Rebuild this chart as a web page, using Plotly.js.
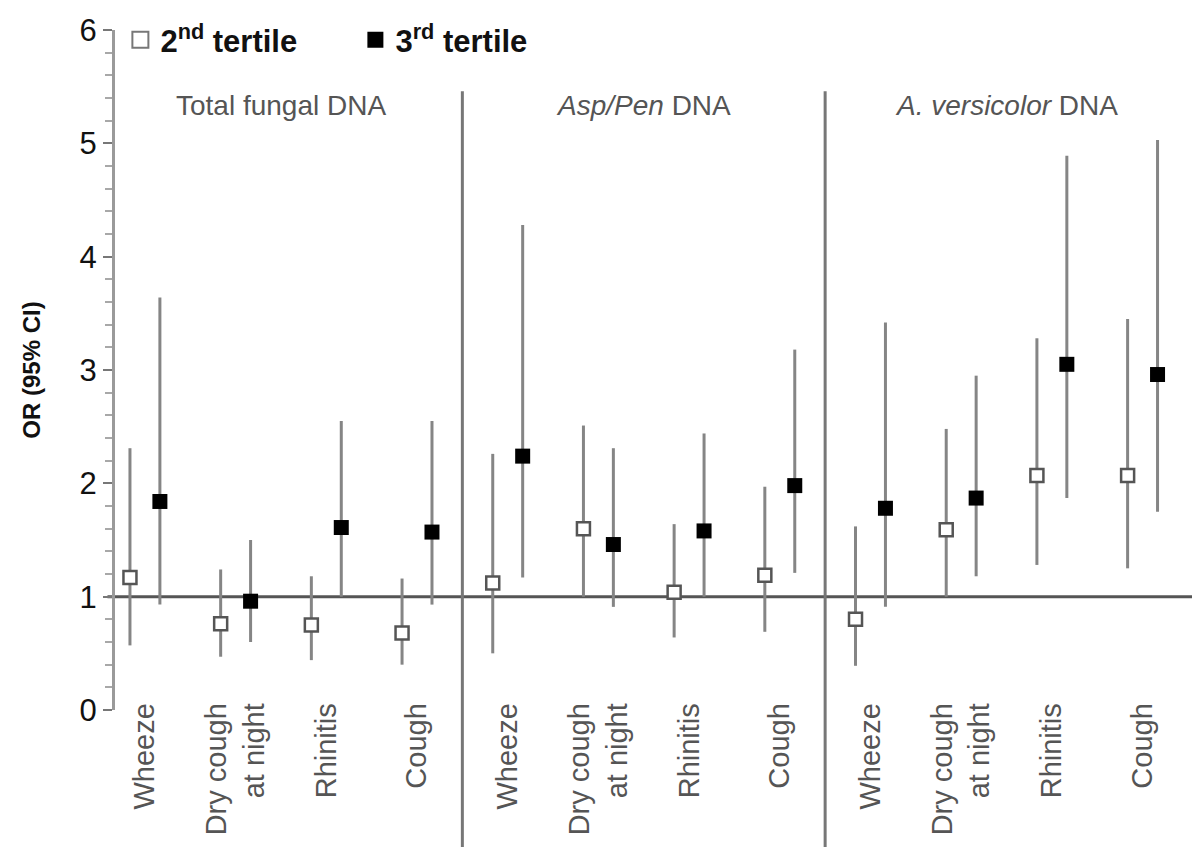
<!DOCTYPE html>
<html>
<head>
<meta charset="utf-8">
<script src="https://cdn.plot.ly/plotly-3.0.1.min.js"></script>
<style>html,body{margin:0;padding:0;background:#fff;}#chart{width:1192px;height:847px;}</style>
</head>
<body>
<div id="chart"></div>
<script>
// Symptoms (repeated for each exposure panel)
const symptoms = ['Wheeze', 'Dry cough<br>at night', 'Rhinitis', 'Cough'];
const panels = ['Total fungal DNA', '<i>Asp/Pen</i> DNA', '<i>A. versicolor</i> DNA'];
const seriesNames = ['2<sup>nd</sup>\u00A0tertile', '3<sup>rd</sup>\u00A0tertile'];

// 2nd tertile: OR and 95% CI (panel order: Total fungal, Asp/Pen, A. versicolor)
const or2 = [1.17, 0.76, 0.75, 0.68,  1.12, 1.60, 1.04, 1.19,  0.80, 1.59, 2.07, 2.07];
const lo2 = [0.57, 0.47, 0.44, 0.40,  0.50, 1.00, 0.64, 0.69,  0.39, 1.00, 1.28, 1.25];
const hi2 = [2.31, 1.24, 1.18, 1.16,  2.26, 2.51, 1.64, 1.97,  1.62, 2.48, 3.28, 3.45];

// 3rd tertile: OR and 95% CI
const or3 = [1.84, 0.96, 1.61, 1.57,  2.24, 1.46, 1.58, 1.98,  1.78, 1.87, 3.05, 2.96];
const lo3 = [0.93, 0.60, 1.00, 0.93,  1.17, 0.91, 1.00, 1.21,  0.91, 1.18, 1.87, 1.75];
const hi3 = [3.64, 1.50, 2.55, 2.55,  4.28, 2.31, 2.44, 3.18,  3.42, 2.95, 4.89, 5.03];

const FONT = 'Liberation Sans, Arial, sans-serif';
const groupIdx = or2.map((_, i) => i);
const off = 0.165;
const x2 = groupIdx.map(i => i - off);
const x3 = groupIdx.map(i => i + off);
const tickText = groupIdx.map(i => symptoms[i % symptoms.length]);

function errs(or, lo, hi) {
  return {
    type: 'data', symmetric: false,
    array: or.map((v, i) => hi[i] - v),
    arrayminus: or.map((v, i) => v - lo[i]),
    color: '#858585', thickness: 3, width: 0
  };
}

const traces = [
  {
    type: 'scatter', mode: 'markers', x: x2, y: or2, showlegend: false,
    error_y: errs(or2, lo2, hi2),
    marker: {symbol: 'square', size: 13, color: '#ffffff', line: {color: '#555555', width: 2.5}},
    hoverinfo: 'y'
  },
  {
    type: 'scatter', mode: 'markers', x: x3, y: or3, showlegend: false,
    error_y: errs(or3, lo3, hi3),
    marker: {symbol: 'square', size: 15, color: '#000000', line: {width: 0}},
    hoverinfo: 'y'
  },
  {
    type: 'scatter', mode: 'markers', x: [null], y: [null], name: seriesNames[0],
    marker: {symbol: 'square', size: 16, color: '#ffffff', line: {color: '#777777', width: 2}}
  },
  {
    type: 'scatter', mode: 'markers', x: [null], y: [null], name: seriesNames[1],
    marker: {symbol: 'square', size: 16, color: '#000000', line: {width: 0}}
  }
];

const shapes = [
  {type: 'line', xref: 'paper', yref: 'y', x0: -0.007, x1: 1, y0: 1, y1: 1,
   line: {color: '#555555', width: 3}, layer: 'below'},
  {type: 'line', xref: 'x', yref: 'paper', x0: 3.5, x1: 3.5, y0: -0.21, y1: 0.91,
   line: {color: '#777777', width: 3}, layer: 'below'},
  {type: 'line', xref: 'x', yref: 'paper', x0: 7.5, x1: 7.5, y0: -0.21, y1: 0.91,
   line: {color: '#777777', width: 3}, layer: 'below'}
];

const annotations = panels.map((p, k) => ({
  text: p, x: 4 * k + 1.5, y: 5.33, xref: 'x', yref: 'y',
  showarrow: false, xanchor: 'center', yanchor: 'middle',
  font: {family: FONT, size: 28, color: '#555555'}
}));

const layout = {
  width: 1192, height: 847,
  margin: {l: 115, r: 0, t: 30, b: 137},
  paper_bgcolor: '#ffffff', plot_bgcolor: 'rgba(0,0,0,0)',
  font: {family: FONT, color: '#222222'},
  showlegend: true,
  legend: {
    orientation: 'h', x: 0.005, y: 0.985, xanchor: 'left', yanchor: 'middle',
    font: {family: FONT, size: 31, color: '#111111', weight: 'bold'}, bgcolor: 'rgba(0,0,0,0)',
    itemwidth: 30, tracegroupgap: 0, entrywidth: 190, entrywidthmode: 'pixels'
  },
  xaxis: {
    range: [-0.33, 11.545], tickmode: 'array', tickvals: groupIdx, ticktext: tickText,
    tickangle: -90, showline: false, showgrid: false, zeroline: false, ticks: '',
    anchor: 'free', position: 0.02,
    tickfont: {family: FONT, size: 29, color: '#555555'}
  },
  yaxis: {
    range: [0, 6], dtick: 1, tick0: 0, showgrid: false, zeroline: false,
    showline: true, linecolor: '#9a9a9a', linewidth: 3,
    ticks: 'outside', ticklen: 9, tickwidth: 2, tickcolor: '#777777',
    minor: {ticks: 'outside', dtick: 0.2, ticklen: 7, tickwidth: 2, tickcolor: '#a8a8a8'},
    tickfont: {family: FONT, size: 31, color: '#111111'},
    title: {text: 'OR (95% CI)', font: {family: FONT, size: 24, color: '#111111', weight: 'bold'}, standoff: 33}
  },
  shapes: shapes,
  annotations: annotations
};

Plotly.newPlot('chart', traces, layout, {displayModeBar: false, staticPlot: true});
</script>
</body>
</html>
